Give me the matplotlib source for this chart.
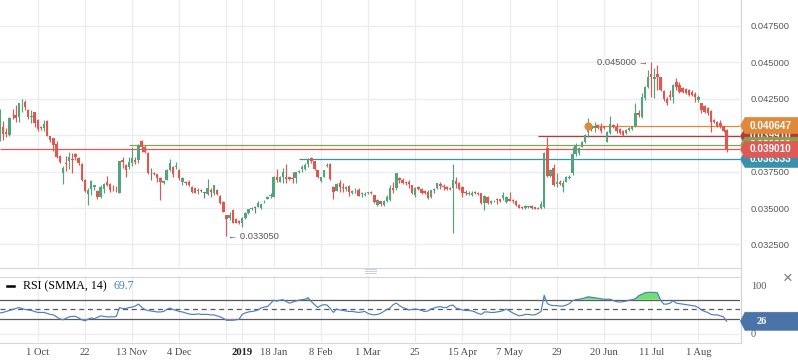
import numpy as np
import matplotlib
matplotlib.use("Agg")
import matplotlib.pyplot as plt
import matplotlib.transforms as mtransforms
from matplotlib.patches import Polygon
from matplotlib.lines import Line2D

# ---------------- data (price values in units of 1e-5) ----------------
opens = [3966, 4057, 4020, 4000, 4140, 4137, 4125, 4190, 4228, 4171,
         4125, 4155, 4103, 4055, 4046, 4098, 3990, 3977, 3936, 3856,
         3742, 3810, 3824, 3838, 3870, 3845, 3801, 3692, 3596, 3628,
         3645, 3618, 3573, 3628, 3681, 3663, 3625, 3625, 3606, 3829,
         3794, 3779, 3806, 3826, 3830, 3959, 3920, 3879, 3733, 3743,
         3731, 3708, 3673, 3692, 3760, 3783, 3778, 3760, 3680, 3680,
         3676, 3642, 3635, 3615, 3625, 3605, 3596, 3620, 3601, 3623,
         3582, 3543, 3452, 3430, 3486, 3423, 3413, 3399, 3430, 3464,
         3492, 3505, 3509, 3498, 3538, 3564, 3580, 3578, 3714, 3680,
         3714, 3714, 3710, 3708, 3703, 3745, 3767, 3770, 3801, 3840,
         3822, 3760, 3687, 3715, 3788, 3801, 3646, 3619, 3673, 3645,
         3630, 3651, 3601, 3620, 3623, 3595, 3590, 3605, 3610, 3589,
         3520, 3548, 3520, 3550, 3555, 3635, 3635, 3703, 3692, 3680,
         3680, 3658, 3589, 3646, 3630, 3615, 3612, 3575, 3625, 3639,
         3664, 3650, 3643, 3640, 3635, 3687, 3673, 3646, 3612, 3596,
         3590, 3612, 3605, 3601, 3532, 3573, 3535, 3545, 3565, 3560,
         3566, 3543, 3559, 3552, 3548, 3520, 3510, 3500, 3505, 3512,
         3505, 3500, 3498, 3509, 3913, 3719, 3772, 3665, 3675, 3646,
         3680, 3703, 3742, 3870, 3875, 3920, 3954, 4022, 4062, 4046,
         4068, 4057, 4057, 3954, 4012, 4068, 4057, 4039, 4029, 4016,
         4034, 4039, 4062, 4149, 4125, 4251, 4327, 4418, 4386, 4418,
         4395, 4303, 4244, 4274, 4258, 4365, 4342, 4320, 4313, 4308,
         4297, 4281, 4240, 4217, 4199, 4183, 4166, 4103, 4091, 4080,
         4062, 4034]
highs = [4180, 4098, 4048, 4125, 4178, 4205, 4220, 4247, 4240, 4178,
         4171, 4160, 4110, 4060, 4103, 4100, 3995, 3980, 3959, 3860,
         3790, 3856, 3886, 3880, 3875, 3850, 3805, 3700, 3640, 3690,
         3660, 3625, 3660, 3670, 3720, 3668, 3660, 3650, 3825, 3847,
         3798, 3851, 3920, 3850, 3940, 3965, 3930, 3885, 3772, 3750,
         3735, 3712, 3690, 3767, 3836, 3788, 3817, 3770, 3710, 3685,
         3692, 3650, 3640, 3635, 3630, 3612, 3697, 3635, 3660, 3630,
         3590, 3548, 3455, 3475, 3490, 3430, 3418, 3440, 3470, 3495,
         3509, 3513, 3548, 3530, 3555, 3580, 3600, 3720, 3765, 3720,
         3772, 3801, 3715, 3745, 3750, 3760, 3794, 3805, 3842, 3851,
         3825, 3762, 3715, 3762, 3806, 3805, 3650, 3668, 3692, 3673,
         3650, 3655, 3625, 3639, 3635, 3610, 3610, 3612, 3618, 3592,
         3560, 3550, 3555, 3589, 3658, 3680, 3740, 3710, 3703, 3685,
         3690, 3660, 3646, 3650, 3640, 3620, 3620, 3625, 3640, 3673,
         3675, 3665, 3650, 3645, 3801, 3714, 3680, 3650, 3620, 3615,
         3615, 3618, 3610, 3605, 3590, 3580, 3555, 3555, 3570, 3565,
         3608, 3585, 3612, 3560, 3552, 3525, 3512, 3520, 3515, 3520,
         3508, 3505, 3545, 3885, 3989, 3765, 3801, 3738, 3690, 3690,
         3720, 3725, 3916, 3945, 3915, 3960, 4005, 4114, 4070, 4091,
         4075, 4080, 4065, 4025, 4130, 4075, 4082, 4045, 4035, 4040,
         4055, 4062, 4217, 4171, 4285, 4335, 4445, 4500, 4457, 4480,
         4400, 4310, 4262, 4308, 4349, 4388, 4365, 4330, 4320, 4315,
         4305, 4297, 4274, 4220, 4205, 4194, 4171, 4110, 4095, 4103,
         4065, 4038]
lows = [3960, 3966, 3986, 3990, 4110, 4091, 4087, 4157, 4171, 4110,
        4082, 4057, 4030, 4035, 4030, 3990, 3955, 3892, 3840, 3810,
        3662, 3752, 3767, 3740, 3830, 3795, 3688, 3610, 3520, 3589,
        3620, 3565, 3570, 3600, 3650, 3610, 3615, 3612, 3600, 3772,
        3715, 3770, 3790, 3800, 3810, 3886, 3875, 3735, 3692, 3725,
        3680, 3555, 3665, 3690, 3755, 3715, 3770, 3695, 3658, 3660,
        3651, 3605, 3600, 3596, 3610, 3566, 3589, 3573, 3589, 3590,
        3525, 3470, 3305, 3418, 3395, 3395, 3390, 3372, 3425, 3460,
        3486, 3468, 3505, 3495, 3532, 3560, 3570, 3575, 3680, 3675,
        3669, 3669, 3690, 3670, 3669, 3740, 3749, 3760, 3783, 3810,
        3760, 3703, 3680, 3712, 3779, 3693, 3562, 3615, 3612, 3608,
        3615, 3584, 3596, 3601, 3582, 3573, 3580, 3598, 3595, 3532,
        3515, 3516, 3516, 3543, 3550, 3605, 3623, 3669, 3664, 3660,
        3635, 3598, 3573, 3620, 3595, 3595, 3560, 3570, 3605, 3630,
        3628, 3625, 3625, 3625, 3327, 3640, 3620, 3573, 3590, 3590,
        3585, 3595, 3590, 3525, 3486, 3530, 3525, 3540, 3530, 3540,
        3555, 3535, 3545, 3535, 3515, 3500, 3495, 3490, 3500, 3490,
        3492, 3490, 3490, 3500, 3712, 3712, 3651, 3646, 3655, 3612,
        3675, 3700, 3726, 3856, 3863, 3915, 3945, 3988, 4030, 4022,
        4040, 4016, 4040, 3952, 4005, 4045, 4016, 4005, 3995, 4010,
        4028, 4032, 4058, 4123, 4114, 4240, 4320, 4262, 4251, 4308,
        4300, 4235, 4205, 4240, 4217, 4308, 4285, 4290, 4280, 4268,
        4270, 4228, 4228, 4149, 4150, 4137, 4022, 4085, 4055, 4046,
        4020, 3885]
closes = [4171, 4007, 4010, 4114, 4135, 4116, 4217, 4195, 4190, 4121,
          4132, 4080, 4039, 4045, 4075, 3995, 3965, 3931, 3847, 3817,
          3776, 3803, 3847, 3832, 3847, 3806, 3692, 3618, 3623, 3685,
          3655, 3573, 3642, 3665, 3658, 3623, 3620, 3620, 3822, 3812,
          3760, 3817, 3840, 3818, 3931, 3920, 3886, 3742, 3733, 3736,
          3708, 3680, 3685, 3760, 3806, 3733, 3786, 3703, 3705, 3669,
          3658, 3610, 3605, 3623, 3615, 3605, 3635, 3612, 3658, 3594,
          3532, 3475, 3423, 3452, 3399, 3399, 3395, 3430, 3464, 3491,
          3498, 3505, 3532, 3527, 3543, 3573, 3590, 3715, 3692, 3714,
          3749, 3699, 3700, 3700, 3749, 3754, 3783, 3795, 3836, 3824,
          3765, 3710, 3710, 3760, 3794, 3697, 3612, 3664, 3642, 3638,
          3642, 3612, 3617, 3625, 3584, 3601, 3597, 3608, 3600, 3543,
          3555, 3527, 3548, 3573, 3635, 3623, 3738, 3692, 3673, 3670,
          3662, 3601, 3635, 3628, 3600, 3600, 3566, 3620, 3625, 3669,
          3653, 3642, 3630, 3630, 3692, 3662, 3628, 3601, 3601, 3605,
          3605, 3601, 3598, 3532, 3582, 3537, 3545, 3550, 3555, 3550,
          3589, 3577, 3550, 3545, 3520, 3502, 3500, 3512, 3512, 3500,
          3496, 3495, 3525, 3879, 3719, 3760, 3658, 3675, 3665, 3673,
          3714, 3714, 3870, 3931, 3909, 3954, 4000, 4080, 4039, 4062,
          4046, 4029, 4046, 4022, 4075, 4053, 4029, 4012, 4000, 4034,
          4050, 4057, 4149, 4137, 4262, 4327, 4395, 4395, 4400, 4395,
          4308, 4244, 4221, 4258, 4342, 4327, 4297, 4297, 4285, 4274,
          4274, 4258, 4258, 4171, 4160, 4149, 4091, 4091, 4062, 4062,
          4027, 3901]
PRICE_UNIT = 1e-5

rsi = [43, 44, 46, 48, 50, 52, 54, 52, 50, 49,
       48, 46, 44, 44, 44, 42, 40, 39, 35, 31,
       29, 32, 35, 36, 36, 33, 29, 27, 30, 33,
       31, 34, 37, 36, 35, 35, 35, 36, 54, 52,
       52, 54, 55, 57, 61, 55, 50, 48, 47, 46,
       45, 45, 46, 50, 53, 50, 48, 46, 45, 43,
       41, 40, 40, 41, 40, 40, 40, 39, 39, 37,
       35, 32, 28, 28, 28, 29, 30, 40, 43, 45,
       46, 47, 49, 53, 55, 56, 62, 69, 67, 69,
       70, 66, 63, 65, 67, 69, 70, 71, 74, 66,
       60, 54, 58, 60, 59, 52, 44, 51, 49, 48,
       47, 46, 46, 45, 44, 45, 46, 42, 40, 39,
       40, 42, 46, 50, 53, 60, 63, 58, 54, 52,
       49, 50, 51, 50, 48, 46, 47, 51, 53, 55,
       56, 54, 54, 58, 59, 53, 51, 49, 48, 48,
       47, 45, 42, 40, 45, 45, 44, 44, 45, 46,
       48, 51, 47, 43, 40, 37, 38, 40, 40, 39,
       39, 42, 46, 79, 62, 59, 58, 58, 57, 57,
       59, 62, 68, 70, 71, 72, 74, 76, 75, 74,
       73, 72, 71, 71, 71, 68, 66, 65, 66, 67,
       69, 70, 72, 78, 81, 84, 85, 85, 85, 84,
       69, 61, 61, 63, 68, 63, 62, 61, 60, 59,
       58, 57, 54, 49, 46, 44, 40, 39, 39, 37,
       35, 26]
rsi_legend_value = "69.7"

tick_idx = [12, 27, 42, 57, 72, 77, 87, 102, 117, 132, 147, 162, 177, 192, 207, 222]
tick_labels = ["1 Oct", "22", "13 Nov", "4 Dec", "", "2019", "18 Jan", "8 Feb",
               "1 Mar", "25", "15 Apr", "7 May", "29", "20 Jun", "11 Jul", "1 Aug"]
price_ticks = [0.0325, 0.035, 0.0375, 0.040, 0.0425, 0.045, 0.0475]

level_prices = [0.038333, 0.039910, 0.039300, 0.040647, 0.039010]
level_starts = [95, 171, 41, 187, 0]
level_colors = ["#3b91ac", "#b5393a", "#86a44e", "#e0893b", "#e05a55"]

# ---------------- style ----------------
GREEN = "#53a47c"
RED = "#e0574f"
GRAY = "#7a7a7a"
GRID = "#e9ecf0"
SEP = "#d3d6db"
TXT = "#585858"
SANS = ["Liberation Sans", "DejaVu Sans"]
SERIF = ["Liberation Serif", "DejaVu Serif"]

W, H = 798, 363
fig = plt.figure(figsize=(W / 100, H / 100), dpi=100)
fig.patch.set_facecolor("white")


def fx(px):
    return px / W


def fy(py):
    return 1 - py / H


ax = fig.add_axes([0, fy(267), fx(740), 267 / H])
ax2 = fig.add_axes([0, fy(342), fx(740), (342 - 276) / H])

o = np.array(opens) * PRICE_UNIT
h = np.array(highs) * PRICE_UNIT
l = np.array(lows) * PRICE_UNIT
c = np.array(closes) * PRICE_UNIT
r = np.array(rsi, dtype=float)
idx = np.arange(len(c))

XMIN, XMAX = 0.016, 235.24
for a in (ax, ax2):
    a.set_xlim(XMIN, XMAX)
    for s in a.spines.values():
        s.set_visible(False)
    a.set_facecolor("white")

# ---------------- price panel ----------------
ax.set_ylim(0.0309589, 0.0492466)
for p in price_ticks:
    ax.axhline(p, color=GRID, lw=0.9, zorder=0)
for t in tick_idx:
    ax.axvline(t, color=GRID, lw=0.9, zorder=0)
    ax2.axvline(t, color=GRID, lw=0.9, zorder=0)

cols = np.where(c > o, GREEN, np.where(c < o, RED, GRAY))
ax.vlines(idx, l, h, colors=cols, lw=0.85, zorder=3)
minh = 0.00004
body_lo = np.minimum(o, c)
body_h = np.abs(c - o)
small = body_h < minh
body_lo = np.where(small, (o + c) / 2 - minh / 2, body_lo)
body_h = np.where(small, minh, body_h)
ax.bar(idx, body_h, bottom=body_lo, width=0.76, color=cols, lw=0, zorder=4)

for p, s0, col in zip(level_prices, level_starts, level_colors):
    ax.hlines(p, s0, XMAX, colors=col, lw=0.9, zorder=2)
ax.plot([level_starts[3]], [level_prices[3]], "o", ms=4.8, color=level_colors[3], zorder=5)

ax.yaxis.tick_right()
ax.set_yticks(price_ticks)
ax.set_yticklabels([f"{p:.6f}" for p in price_ticks])
ax.tick_params(axis="y", length=0, pad=7.9, labelsize=6.7, labelcolor=TXT)
for lab in ax.get_yticklabels():
    lab.set_family(SANS)
ax.set_xticks([])

# extreme annotations
imax = int(np.argmax(h))
imin = int(np.argmin(l))
ax.annotate(f"{h[imax]:.6f} \u2192", xy=(imax, h[imax]), xytext=(-3, 0),
            textcoords="offset pixels", ha="right", va="center",
            fontsize=6.7, color=TXT, family=SANS, zorder=6)
ax.annotate(f"\u2190 {l[imin]:.6f}", xy=(imin, l[imin]), xytext=(2, 0),
            textcoords="offset pixels", ha="left", va="center",
            fontsize=6.7, color=TXT, family=SANS, zorder=6)

# right-side price labels
blend = mtransforms.blended_transform_factory(fig.transFigure, ax.transData)
half = 8 / 14600.0
z = 10
for p, col in zip(level_prices, level_colors):
    poly = Polygon([(fx(740.5), p), (fx(745), p + half), (fx(798), p + half),
                    (fx(798), p - half), (fx(745), p - half)],
                   closed=True, transform=blend, facecolor=col, edgecolor=col,
                   lw=0.5, zorder=z)
    fig.add_artist(poly)
    fig.text(fx(770.5), p, f"{p:.6f}", transform=blend, ha="center", va="center",
             color="white", fontsize=7.2, fontweight="bold", family=SANS, zorder=z + 1)
    z += 2

# ---------------- RSI panel ----------------
ax2.set_ylim(-16.33, 118.37)
ax2.axhline(0, color=GRID, lw=0.9, zorder=0)
ax2.axhline(70, color="#5a5a5a", lw=0.9, zorder=1)
ax2.axhline(30, color="#5a5a5a", lw=0.9, zorder=1)
ax2.axhline(50, color="#5a5a5a", lw=0.9, ls=(0, (4, 3)), zorder=1)
ax2.fill_between(idx, r, 70, where=r > 70, interpolate=True, color="#6fe06f", lw=0, zorder=2)
ax2.fill_between(idx, r, 30, where=r < 30, interpolate=True, color="#f07c7c", lw=0, zorder=2)
ax2.plot(idx, r, color="#4f7fc0", lw=0.85, zorder=3)

ax2.yaxis.tick_right()
ax2.set_yticks([0, 100])
ax2.set_yticklabels(["0", "100"])
ax2.tick_params(axis="y", length=0, pad=7.9, labelsize=7.5, labelcolor=TXT)
for lab in ax2.get_yticklabels():
    lab.set_family(SERIF)

ax2.set_xticks(tick_idx)
ax2.set_xticklabels(tick_labels)
ax2.tick_params(axis="x", length=0, pad=4.2, labelsize=7.6, labelcolor="#4a4a4a")
for lab in ax2.get_xticklabels():
    lab.set_family(SERIF)
    if lab.get_text() == "2019":
        lab.set_fontweight("bold")
        lab.set_color("#222222")

# RSI value label
blend2 = mtransforms.blended_transform_factory(fig.transFigure, ax2.transData)
rv = r[-1]
hh = 9 / 0.49
fig.add_artist(Polygon([(fx(740.5), rv), (fx(745), rv + hh), (fx(798), rv + hh),
                        (fx(798), rv - hh), (fx(745), rv - hh)], closed=True,
                       transform=blend2, facecolor="#4a74a8", edgecolor="#4a74a8",
                       lw=0.5, zorder=10))
fig.text(fx(762), rv, f"{rv:.0f}", transform=blend2, ha="center", va="center",
         color="white", fontsize=7.5, fontweight="bold", family=SERIF, zorder=11)

# legend
fig.add_artist(Line2D([fx(6.5), fx(13.5)], [fy(286.3), fy(286.3)], color="black", lw=1.8))
fig.text(fx(22.7), fy(286.3), "RSI (SMMA, 14)", ha="left", va="center",
         fontsize=8.6, color="black", family=SERIF)
fig.text(fx(113), fy(286.3), rsi_legend_value, ha="left", va="center",
         fontsize=8.6, color="#4f7fc0", family=SERIF)

# separators and chrome
fig.add_artist(Line2D([fx(740.5), fx(740.5)], [fy(0), fy(343)], color=SEP, lw=0.9))
for yy in (267.5, 276.5, 342.5):
    fig.add_artist(Line2D([0, fx(740)], [fy(yy), fy(yy)], color=SEP, lw=0.8))
for yy in (269.3, 271.0, 272.7):
    fig.add_artist(Line2D([fx(365), fx(376)], [fy(yy), fy(yy)], color="#c9ccd1", lw=0.7))
fig.text(fx(788), fy(278), "\u00d7", ha="center", va="center", fontsize=12,
         color="#777777", family=SANS)

fig.savefig("out.png", dpi=100)
